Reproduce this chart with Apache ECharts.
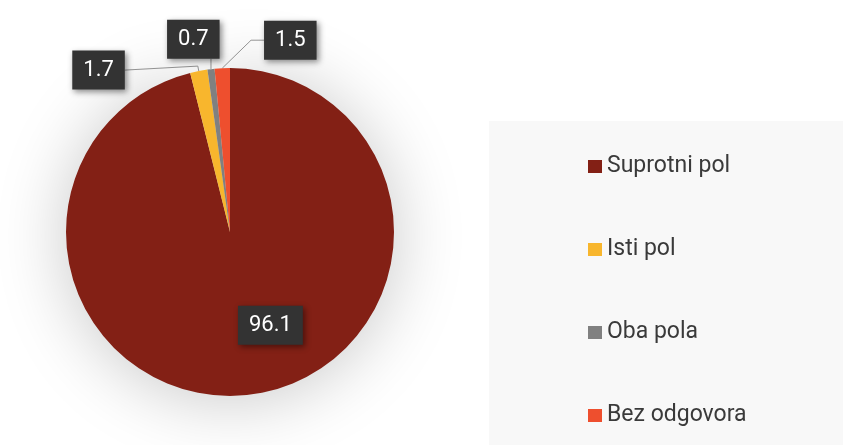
<!DOCTYPE html>
<html>
<head>
<meta charset="utf-8">
<script src="https://cdn.jsdelivr.net/npm/echarts@6/dist/echarts.min.js"></script>
<style>
html,body{margin:0;padding:0;background:#fff;}
#chart{width:843px;height:445px;}
</style>
</head>
<body>
<div id="chart"></div>
<script>
const categories = ['Suprotni pol', 'Isti pol', 'Oba pola', 'Bez odgovora'];
const values = [96.1, 1.7, 0.7, 1.5];
const colors = ['#832015', '#f8b62d', '#808080', '#ee4f2e'];

// label nudges (dx, dy) relative to library default placement
const labelShift = [[30, 9], [-3, 4], [15, -18], [115, -13]];
const lineLen = [[0, 0], [5, 65], [12, 0], [15, 15]];

const chart = echarts.init(document.getElementById('chart'));
const data = categories.map((name, i) => ({
  name: name,
  value: values[i],
  itemStyle: i === 0
    ? { color: colors[i], shadowBlur: 70, shadowOffsetY: 4, shadowColor: 'rgba(0,0,0,0.22)' }
    : { color: colors[i] },
  label: i === 0 ? { position: 'inside' } : { position: 'outside' },
  labelLine: i === 0 ? { show: false } : { show: true, length: lineLen[i][0], length2: lineLen[i][1] }
}));

chart.setOption({
  backgroundColor: '#ffffff',
  animation: false,
  graphic: [{
    type: 'rect', left: 489, top: 121, z: -10,
    shape: { width: 360, height: 330 },
    style: { fill: '#f8f8f8' }
  }],
  legend: {
    orient: 'vertical',
    left: 583,
    top: 150,
    itemGap: 60,
    itemWidth: 14,
    itemHeight: 13,
    icon: 'rect',
    data: categories,
    textStyle: { fontFamily: 'Roboto', fontSize: 23, color: '#3a3a3a' }
  },
  series: [{
    type: 'pie',
    center: [230, 232],
    radius: 164,
    startAngle: 90,
    clockwise: true,
    avoidLabelOverlap: false,
    label: {
      show: true,
      formatter: '{c}',
      fontFamily: 'Roboto',
      fontSize: 22,
      color: '#ffffff',
      backgroundColor: '#333333',
      padding: [9, 11, 8, 11],
      shadowBlur: 6,
      shadowOffsetX: 2,
      shadowOffsetY: 2,
      shadowColor: 'rgba(0,0,0,0.45)',
      distanceToLabelLine: 5
    },
    labelLine: { lineStyle: { color: '#999999', width: 1 } },
    labelLayout: function (p) {
      const i = p.dataIndex;
      const s = labelShift[i];
      const r = p.labelRect;
      const x = r.x + s[0], y = r.y + s[1], w = r.width, h = r.height;
      const pts = p.labelLinePoints;
      const out = { dx: s[0], dy: s[1] };
      if (pts && i === 1) {
        out.labelLinePoints = [pts[0], pts[1], [x + w, y + h / 2]];
      } else if (pts && i === 2) {
        const a = pts[0];
        out.labelLinePoints = [a, [a[0], (a[1] + y + h) / 2], [a[0], y + h]];
      } else if (pts && i === 3) {
        out.labelLinePoints = [pts[0], [x - 13, y + h / 2], [x, y + h / 2]];
      }
      return out;
    },
    data: data
  }]
});
</script>
</body>
</html>
